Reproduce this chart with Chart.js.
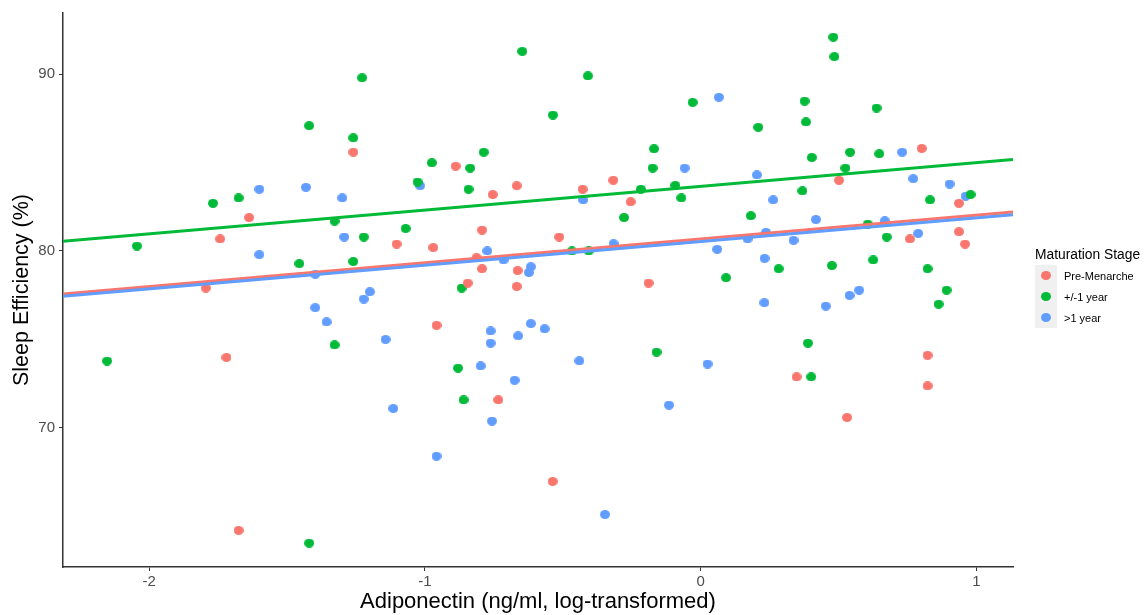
<!DOCTYPE html>
<html>
<head>
<meta charset="utf-8">
<script src="https://cdn.jsdelivr.net/npm/chart.js@4/dist/chart.umd.min.js"></script>
<style>
  html, body { margin: 0; padding: 0; background: #fff; }
  #wrap { position: relative; width: 1146px; height: 615px; }
  #legend { position: absolute; left: 1035px; top: 247px; font-family: "Liberation Sans", Arial, sans-serif; color: #000; }
  #legend .title { font-size: 13.8px; margin-bottom: 3px; white-space: nowrap; }
  #legend .row { display: flex; align-items: center; height: 21px; }
  #legend .key { width: 22px; height: 21px; background: #f0f0f0; display: flex; align-items: center; justify-content: center; }
  #legend .dot { width: 10px; height: 9px; border-radius: 50%; }
  #legend .lab { font-size: 11px; margin-left: 7px; white-space: nowrap; }
</style>
</head>
<body>
<div id="wrap">
  <canvas id="c" width="1146" height="615"></canvas>
  <div id="legend"></div>
</div>
<script>
// ---- Data ----
const seriesNames = ["Pre-Menarche", "+/-1 year", ">1 year"];
const seriesColors = ["#F8766D", "#00BA38", "#619CFF"];

const preMenarcheX = [-1.795,-1.743,-1.720,-1.676,-1.638,-1.260,-1.103,-0.970,-0.958,-0.889,-0.845,-0.813,-0.793,-0.793,-0.754,-0.734,-0.667,-0.664,-0.667,-0.537,-0.513,-0.428,-0.317,-0.254,-0.189,0.348,0.502,0.531,0.759,0.802,0.823,0.823,0.937,0.937,0.959];
const preMenarcheY = [77.9,80.68,73.97,64.18,81.89,85.59,80.39,80.19,75.79,84.8,78.18,79.62,81.18,78.99,83.19,71.57,83.69,78.89,77.99,66.95,80.79,83.49,84.0,82.78,78.18,72.87,84.0,70.57,80.68,85.8,74.09,72.36,82.7,81.09,80.39];

const aroundOneYearX = [-2.153,-2.045,-1.769,-1.676,-1.456,-1.420,-1.420,-1.328,-1.328,-1.260,-1.260,-1.228,-1.222,-1.070,-1.027,-0.975,-0.880,-0.867,-0.860,-0.842,-0.836,-0.787,-0.647,-0.536,-0.467,-0.409,-0.406,-0.278,-0.217,-0.174,-0.169,-0.160,-0.092,-0.070,-0.029,0.092,0.182,0.209,0.283,0.369,0.377,0.382,0.389,0.401,0.403,0.476,0.481,0.485,0.525,0.542,0.606,0.626,0.638,0.648,0.675,0.823,0.832,0.863,0.892,0.979];
const aroundOneYearY = [73.77,80.28,82.7,83.0,79.28,87.09,63.46,81.69,74.68,86.4,79.4,89.8,80.79,81.27,83.9,84.99,73.37,77.9,71.57,83.49,84.69,85.59,91.3,87.69,80.0,89.91,80.0,81.89,83.49,84.69,85.78,74.27,83.71,83.0,88.41,78.48,81.99,87.0,78.99,83.4,88.48,87.3,74.78,72.87,85.29,79.17,92.1,91.0,84.69,85.59,81.52,79.49,88.09,85.5,80.79,78.99,82.89,76.99,77.78,83.19];

const overOneYearX = [-1.601,-1.601,-1.432,-1.398,-1.398,-1.357,-1.300,-1.293,-1.222,-1.200,-1.143,-1.115,-1.018,-0.958,-0.798,-0.774,-0.762,-0.762,-0.757,-0.715,-0.675,-0.662,-0.623,-0.616,-0.616,-0.566,-0.440,-0.426,-0.347,-0.316,-0.115,-0.058,0.025,0.060,0.066,0.170,0.204,0.231,0.232,0.237,0.263,0.337,0.418,0.454,0.540,0.575,0.668,0.731,0.771,0.789,0.903,0.961];
const overOneYearY = [83.49,79.79,83.6,78.68,76.79,75.98,83.0,80.79,77.28,77.69,74.99,71.08,83.69,68.38,73.49,80.0,75.47,74.78,70.37,79.49,72.68,75.19,78.78,79.1,75.89,75.59,73.78,82.89,65.08,80.41,71.27,84.69,73.6,80.09,88.7,80.68,84.3,77.07,79.58,81.05,82.89,80.6,81.78,76.88,77.48,77.78,81.7,85.59,84.09,80.99,83.79,83.1];

// linear fit (intercept at x=0, slope) for each series, full range
const fitIntercepts = [80.68, 83.66, 80.53];
const fitSlopes = [1.349, 1.344, 1.338];

const xTicks = [-2, -1, 0, 1];
const yTicks = [70, 80, 90];
const xRange = [-2.313, 1.133];
const yRange = [62.11, 93.47];

const xTitle = "Adiponectin (ng/ml, log-transformed)";
const yTitle = "Sleep Efficiency (%)";
const legendTitle = "Maturation Stage";

// ---- Build ----
const xs = [preMenarcheX, aroundOneYearX, overOneYearX];
const ys = [preMenarcheY, aroundOneYearY, overOneYearY];

function dotImage(color) {
  const cv = document.createElement('canvas');
  cv.width = 10; cv.height = 9;
  const cx = cv.getContext('2d');
  cx.fillStyle = color;
  cx.beginPath();
  cx.ellipse(5, 4.5, 5, 4.5, 0, 0, Math.PI * 2);
  cx.fill();
  return cv;
}

const datasets = [];
const lineOrder = [2, 1, 0];
for (let i = 0; i < 3; i++) {
  datasets.push({
    type: 'line',
    label: seriesNames[i] + ' fit',
    data: xRange.map(x => ({ x: x, y: fitIntercepts[i] + fitSlopes[i] * x })),
    borderColor: seriesColors[i],
    borderWidth: 3,
    pointRadius: 0,
    fill: false,
    order: lineOrder[i]
  });
}
for (let i = 0; i < 3; i++) {
  datasets.push({
    type: 'scatter',
    label: seriesNames[i],
    data: xs[i].map((x, k) => ({ x: x, y: ys[i][k] })),
    backgroundColor: seriesColors[i],
    pointStyle: dotImage(seriesColors[i]),
    borderWidth: 0,
    pointRadius: 5,
    pointHoverRadius: 5,
    order: 5
  });
}

const FONT = "'Liberation Sans', Arial, sans-serif";

new Chart(document.getElementById('c'), {
  type: 'scatter',
  data: { datasets },
  options: {
    responsive: false,
    animation: false,
    events: [],
    layout: { padding: { left: 0, right: 133, top: 10, bottom: 0 } },
    plugins: { legend: { display: false }, tooltip: { enabled: false } },
    scales: {
      x: {
        type: 'linear',
        min: xRange[0], max: xRange[1],
        afterBuildTicks: s => { s.ticks = xTicks.map(v => ({ value: v })); },
        afterFit: s => { s.height = 48; },
        grid: { display: true, drawOnChartArea: false, drawTicks: true, tickLength: 4, tickColor: '#333', tickWidth: 1 },
        border: { display: true, color: '#333', width: 1.5 },
        ticks: { color: '#4d4d4d', font: { family: FONT, size: 15 }, padding: 2, maxRotation: 0 },
        title: { display: true, text: xTitle, color: '#000', font: { family: FONT, size: 22 }, padding: { top: 0, bottom: 0 } }
      },
      y: {
        type: 'linear',
        min: yRange[0], max: yRange[1],
        afterBuildTicks: s => { s.ticks = yTicks.map(v => ({ value: v })); },
        afterFit: s => { s.width = 63; },
        grid: { display: true, drawOnChartArea: false, drawTicks: true, tickLength: 4, tickColor: '#333', tickWidth: 1 },
        border: { display: true, color: '#333', width: 1.5 },
        ticks: { color: '#4d4d4d', font: { family: FONT, size: 15 }, padding: 4 },
        title: { display: true, text: yTitle, color: '#000', font: { family: FONT, size: 21.5 }, padding: { top: 9, bottom: 0 } }
      }
    }
  }
});

// legend (HTML text)
const lg = document.getElementById('legend');
const t = document.createElement('div'); t.className = 'title'; t.textContent = legendTitle; lg.appendChild(t);
seriesNames.forEach((n, i) => {
  const r = document.createElement('div'); r.className = 'row';
  const k = document.createElement('div'); k.className = 'key';
  const d = document.createElement('div'); d.className = 'dot'; d.style.background = seriesColors[i];
  k.appendChild(d);
  const l = document.createElement('div'); l.className = 'lab'; l.textContent = n;
  r.appendChild(k); r.appendChild(l); lg.appendChild(r);
});
</script>
</body>
</html>
